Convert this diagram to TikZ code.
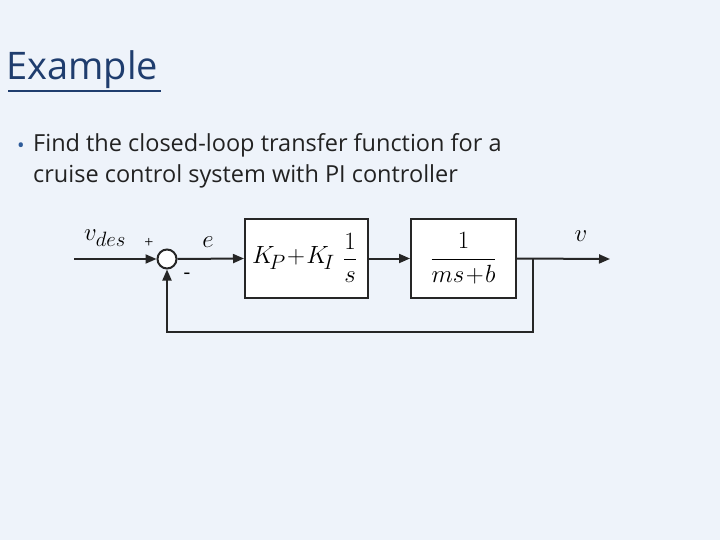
\documentclass[tikz,border=0pt]{standalone}
\usepackage{fontspec}
\setmainfont{Open Sans}
\newfontfamily\tms{Liberation Serif}
\usetikzlibrary{arrows.meta}
\definecolor{bg}{HTML}{EEF3FA}
\definecolor{ttl}{HTML}{1F3D6E}
\definecolor{txt}{HTML}{222222}
\definecolor{bul}{HTML}{2E5C9A}
\tikzset{
 blk/.style={draw=black!85,line width=2pt,fill=white,minimum width=#1,minimum height=79pt,inner sep=0pt},
 sig/.style={line width=2pt,draw=black!85,-{Triangle[length=11pt,width=9pt]}},
 lab/.style={font=\fontsize{28}{30}\selectfont,inner sep=0pt}
}
\begin{document}
\begin{tikzpicture}[x=1pt,y=-1pt]
\fill[bg] (0,0) rectangle (720,540);
\useasboundingbox (0,0) rectangle (720,540);
\node[anchor=west,text=ttl,font=\fontsize{38}{40}\selectfont,inner sep=0pt] (title) at (6,70) {Example};
\draw[ttl,line width=2pt] (8,91) -- (161,91);
\node[text=bul,font=\fontsize{20}{20}\selectfont,inner sep=0pt] (bullet) at (21,148) {•};
\node[anchor=north west,text=txt,font=\fontsize{23.5}{31}\selectfont,inner sep=0pt,align=left] (body) at (33,133) {Find the closed-loop transfer function for a\\cruise control system with PI controller};
\coordinate (in) at (74,259);
\node[draw=black!85,line width=2pt,circle,minimum size=19pt,inner sep=0pt,fill=white] (sum) at (167,259) {};
\node[blk=123pt] (c) at (306.5,258.5) {};
\node[lab,anchor=east] (kp) at (335,258) {$K_{\!P}\!+\!K_{\!I}$};
\node[lab] (fr) at (350,258) {$\displaystyle\frac{1}{s}$};
\node[blk=105pt] (p) at (463.5,258.5) {};
\node[lab] (pl) at (463.5,258) {$\displaystyle\frac{1}{ms\!+\!b}$};
\coordinate (br) at (533,259);
\coordinate (out) at (610,259);
\coordinate (bl) at (533,332);
\coordinate (bm) at (167,332);
\draw[sig] (in) -- (sum.west);
\draw[sig] (sum.east) -- (c.west);
\draw[sig] (c.east) -- (p.west);
\draw[sig] (p.east) -- (out);
\draw[sig] (br) -- (bl) -- (bm) -- (sum.south);
\node[lab] (vdes) at (105,238) {$v_{des}$};
\node[font=\tms\fontsize{16}{16}\selectfont,inner sep=0pt] (plus) at (149,243) {+};
\node[lab] (e) at (208,242) {$e$};
\node[font=\tms\fontsize{20}{20}\selectfont,inner sep=0pt] (minus) at (187,276) {-};
\node[lab] (v) at (581,236) {$v$};
\end{tikzpicture}
\end{document}
